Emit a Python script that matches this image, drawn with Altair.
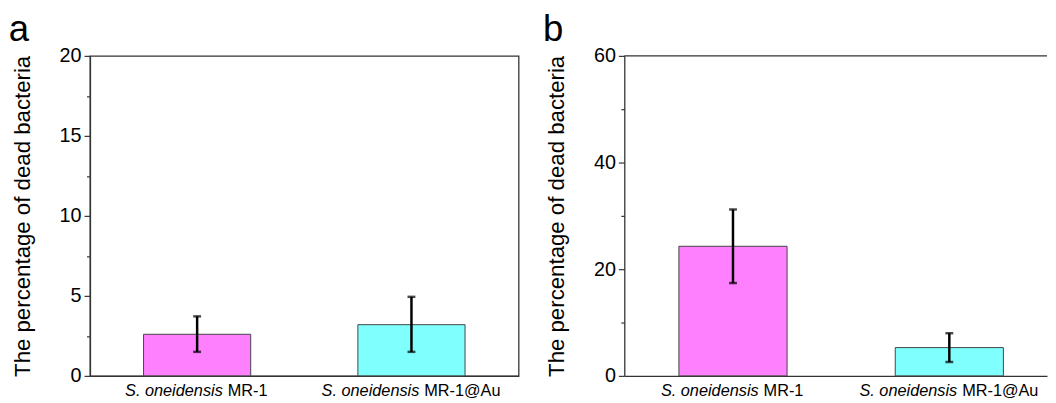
import altair as alt
import pandas as pd

# ---------------- data ----------------
groups = ["S. oneidensis MR-1", "S. oneidensis MR-1@Au"]
label_italic = ["S. oneidensis", "S. oneidensis"]
label_roman = ["MR-1", "MR-1@Au"]
bar_colors = ["#FF80FF", "#80FFFF"]

a_mean = [2.6, 3.2]
a_low = [1.5, 1.5]
a_high = [3.72, 4.94]

b_mean = [24.3, 5.3]
b_low = [17.4, 2.6]
b_high = [31.2, 8.0]

a_major = [0, 5, 10, 15, 20]
a_minor = [2.5, 7.5, 12.5, 17.5]
b_major = [0, 20, 40, 60]
b_minor = [10, 30, 50]

# ---------------- style / layout ----------------
FONT = "Liberation Sans"
H = 324
AXIS_COLOR = "#333333"
# horizontal offsets of the label halves from the bar centre (italic end, roman start)
LABEL_DX = [(26, 31), (8, 13)]


def panel(letter, mean, low, high, major, minor, width, pad_outer, align, frame):
    df = pd.DataFrame({
        "group": groups,
        "mean": mean,
        "low": low,
        "high": high,
        "it": label_italic,
        "ro": label_roman,
    })
    step = major[1] - major[0]
    ymax = major[-1]
    xscale = alt.Scale(domain=groups, paddingInner=0.5, paddingOuter=pad_outer, align=align)
    x = alt.X("group:N", scale=xscale, sort=groups,
              axis=alt.Axis(labels=False, ticks=False, title=None, domainColor=AXIS_COLOR,
                            domainWidth=1.3))
    yaxis = alt.Axis(
        values=sorted(major + minor),
        labelExpr=f"datum.value % {step} === 0 ? datum.label : ''",
        tickSize={"condition": {"test": f"datum.value % {step} === 0", "value": 6}, "value": 3.5},
        tickColor=AXIS_COLOR, tickWidth=1.2,
        domainColor=AXIS_COLOR, domainWidth=1.3,
        grid=False,
        labelFont=FONT, labelFontSize=20, labelColor="black", labelPadding=3,
        title="The percentage of dead bacteria",
        titleFont=FONT, titleFontSize=22.5, titleFontWeight="normal", titleColor="black",
        titlePadding=25,
    )
    y = alt.Y("mean:Q", scale=alt.Scale(domain=[0, ymax], nice=False), axis=yaxis)

    base = alt.Chart(df)
    bars = base.mark_bar(stroke="#444444", strokeWidth=1).encode(
        x=x, y=y,
        color=alt.Color("group:N", scale=alt.Scale(domain=groups, range=bar_colors), legend=None),
    )
    err = base.mark_rule(color="black", strokeWidth=2.5).encode(
        x="group:N", y="low:Q", y2="high:Q")
    cap_lo = base.mark_tick(color="black", size=8, thickness=2.5).encode(x="group:N", y="low:Q")
    cap_hi = base.mark_tick(color="black", size=8, thickness=2.5).encode(x="group:N", y="high:Q")

    layers = [bars, err, cap_lo, cap_hi]
    for i, g in enumerate(groups):
        dx_it, dx_ro = LABEL_DX[i]
        sub = base.transform_filter(alt.datum.group == g)
        layers.append(sub.mark_text(align="right", baseline="alphabetic", dx=dx_it, font=FONT,
                                    fontSize=16.5, fontStyle="italic", color="black").encode(
            x="group:N", y=alt.value(H + 20), text="it:N"))
        layers.append(sub.mark_text(align="left", baseline="alphabetic", dx=dx_ro, font=FONT,
                                    fontSize=16.5, color="black").encode(
            x="group:N", y=alt.value(H + 20), text="ro:N"))

    if not frame:
        top = alt.Chart(pd.DataFrame({"v": [ymax]})).mark_rule(
            color=AXIS_COLOR, strokeWidth=1.3).encode(y="v:Q")
        layers.append(top)

    ch = alt.layer(*layers).properties(
        width=width, height=H,
        title=alt.TitleParams(letter, anchor="start", frame="bounds", font=FONT, fontSize=37,
                              fontWeight="normal", color="black", offset=-3, dx=-3),
    )
    if frame:
        ch = ch.properties(view=alt.ViewBackground(stroke=AXIS_COLOR, strokeWidth=1.3))
    else:
        ch = ch.properties(view=alt.ViewBackground(stroke=None))
    return ch


pa = panel("a", a_mean, a_low, a_high, a_major, a_minor, 434, 0.25, 0.5, True)
pb = panel("b", b_mean, b_low, b_high, b_major, b_minor, 428, 0.227, 0.556, False)

chart = alt.hconcat(pa, pb, spacing=23).properties(
    padding={"left": 0, "top": 0, "right": 0, "bottom": 0}
).configure_view(stroke=AXIS_COLOR, strokeWidth=1.3).configure(background="white")

chart.save("out.html", embed_options={"renderer": "svg", "actions": False})
